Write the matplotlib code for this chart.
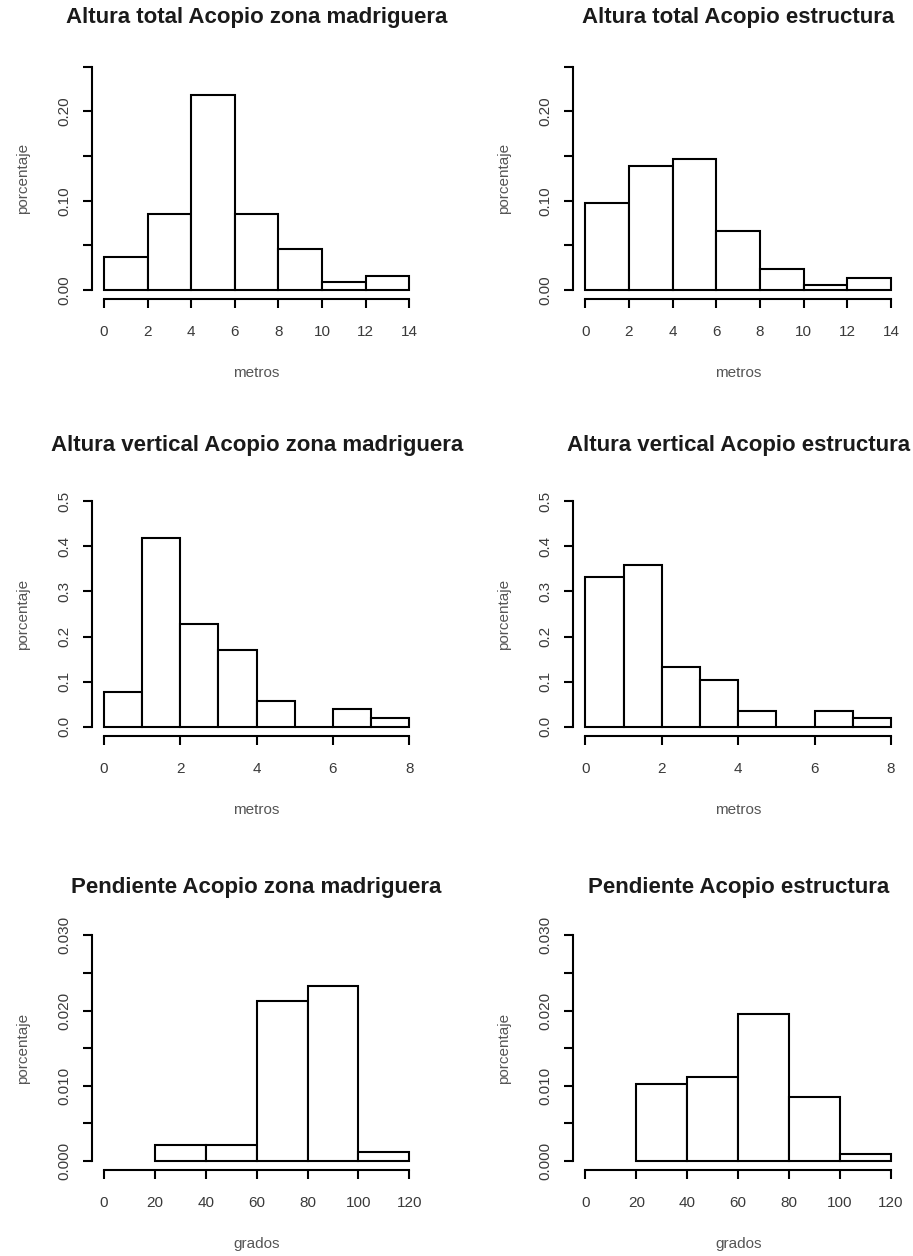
import numpy as np
import matplotlib
matplotlib.use("Agg")
import matplotlib.pyplot as plt
from matplotlib.ticker import FixedLocator, FixedFormatter

plt.rcParams['font.family'] = ['Liberation Sans', 'DejaVu Sans']

# bin edges and densities of each histogram
edges_total = [0, 2, 4, 6, 8, 10, 12, 14]
dens_total_madriguera = [0.037, 0.085, 0.218, 0.085, 0.046, 0.009, 0.016]
dens_total_estructura = [0.098, 0.139, 0.147, 0.066, 0.024, 0.006, 0.014]

edges_vertical = [0, 1, 2, 3, 4, 5, 6, 7, 8]
dens_vertical_madriguera = [0.078, 0.418, 0.228, 0.170, 0.058, 0.0, 0.040, 0.019]
dens_vertical_estructura = [0.332, 0.359, 0.132, 0.103, 0.034, 0.0, 0.034, 0.019]

edges_pendiente = [20, 40, 60, 80, 100, 120]
dens_pendiente_madriguera = [0.0021, 0.0021, 0.0213, 0.0233, 0.0012]
dens_pendiente_estructura = [0.0102, 0.0111, 0.0195, 0.0085, 0.0009]

titles = [
    "Altura total Acopio zona madriguera", "Altura total Acopio estructura",
    "Altura vertical Acopio zona madriguera", "Altura vertical Acopio estructura",
    "Pendiente Acopio zona madriguera", "Pendiente Acopio estructura",
]

# per-row axis settings: xlim, xticks, yticks, labelled yticks, format, xlabel
rows = [
    dict(edges=edges_total, xlim=(0, 14), xticks=np.arange(0, 15, 2),
         yticks=np.arange(0, 0.2501, 0.05), ylab=[0.0, 0.10, 0.20], fmt="%.2f",
         xlabel="metros", data=(dens_total_madriguera, dens_total_estructura)),
    dict(edges=edges_vertical, xlim=(0, 8), xticks=np.arange(0, 9, 2),
         yticks=np.arange(0, 0.501, 0.1), ylab=[0.0, 0.1, 0.2, 0.3, 0.4, 0.5], fmt="%.1f",
         xlabel="metros", data=(dens_vertical_madriguera, dens_vertical_estructura)),
    dict(edges=edges_pendiente, xlim=(0, 120), xticks=np.arange(0, 121, 20),
         yticks=np.arange(0, 0.03001, 0.005), ylab=[0.0, 0.010, 0.020, 0.030], fmt="%.3f",
         xlabel="grados", data=(dens_pendiente_madriguera, dens_pendiente_estructura)),
]

W, H = 913, 1256
fig = plt.figure(figsize=(W / 100, H / 100), dpi=100)

# plot regions in pixels: (left, width) per column, (top, bottom) per row
cols_px = [(91.8, 329.7), (573.1, 330.1)]
rows_px = [(57.8, 299.0), (492.3, 735.7), (926.3, 1170.0)]
title_y_px = [17, 445, 887]

LW = 1.5
for r, spec in enumerate(rows):
    top, bot = rows_px[r]
    for c in range(2):
        x0, w = cols_px[c]
        ax = fig.add_axes([x0 / W, 1 - bot / H, w / W, (bot - top) / H])
        e = np.array(spec["edges"], dtype=float)
        d = spec["data"][c]
        ax.bar(e[:-1], d, width=np.diff(e), align="edge", color="white",
               edgecolor="black", linewidth=LW)

        lo, hi = spec["xlim"]
        ext = 0.04 * (hi - lo)
        ax.set_xlim(lo - ext, hi + ext)
        ymax = spec["yticks"][-1]
        ax.set_ylim(-0.04 * ymax, ymax * 1.04)

        for s in ["top", "right"]:
            ax.spines[s].set_visible(False)
        ax.spines["left"].set_bounds(0, ymax)
        ax.spines["bottom"].set_bounds(lo, hi)
        for s in ["left", "bottom"]:
            ax.spines[s].set_linewidth(LW)

        ax.set_xticks(spec["xticks"])
        ax.set_xticklabels([f"{int(v)}" for v in spec["xticks"]])
        yt = spec["yticks"]
        ax.yaxis.set_major_locator(FixedLocator(yt))
        labs = [spec["fmt"] % v if any(abs(v - l) < 1e-9 for l in spec["ylab"]) else ""
                for v in yt]
        ax.yaxis.set_major_formatter(FixedFormatter(labs))
        ax.tick_params(axis="both", length=6.8, width=LW, labelsize=11,
                       labelcolor="#3a3a3a")
        ax.tick_params(axis="x", pad=12)
        ax.tick_params(axis="y", pad=8)
        for t in ax.get_yticklabels():
            t.set_rotation(90)
            t.set_va("center")

        ax.set_ylabel("porcentaje", fontsize=11, color="#555555")
        ax.yaxis.set_label_coords(-0.209, 0.5)
        ax.yaxis.label.set_va("center")
        ax.set_xlabel(spec["xlabel"], fontsize=11, color="#555555")
        ax.xaxis.set_label_coords(0.5, -74 / (bot - top))
        ax.xaxis.label.set_va("center")

        ty = (bot - title_y_px[r]) / (bot - top)
        ax.set_title(titles[2 * r + c], y=ty, pad=0, va="center",
                     fontsize=16, fontweight="bold", color="#1a1a1a")

fig.savefig("out.png", dpi=100)
